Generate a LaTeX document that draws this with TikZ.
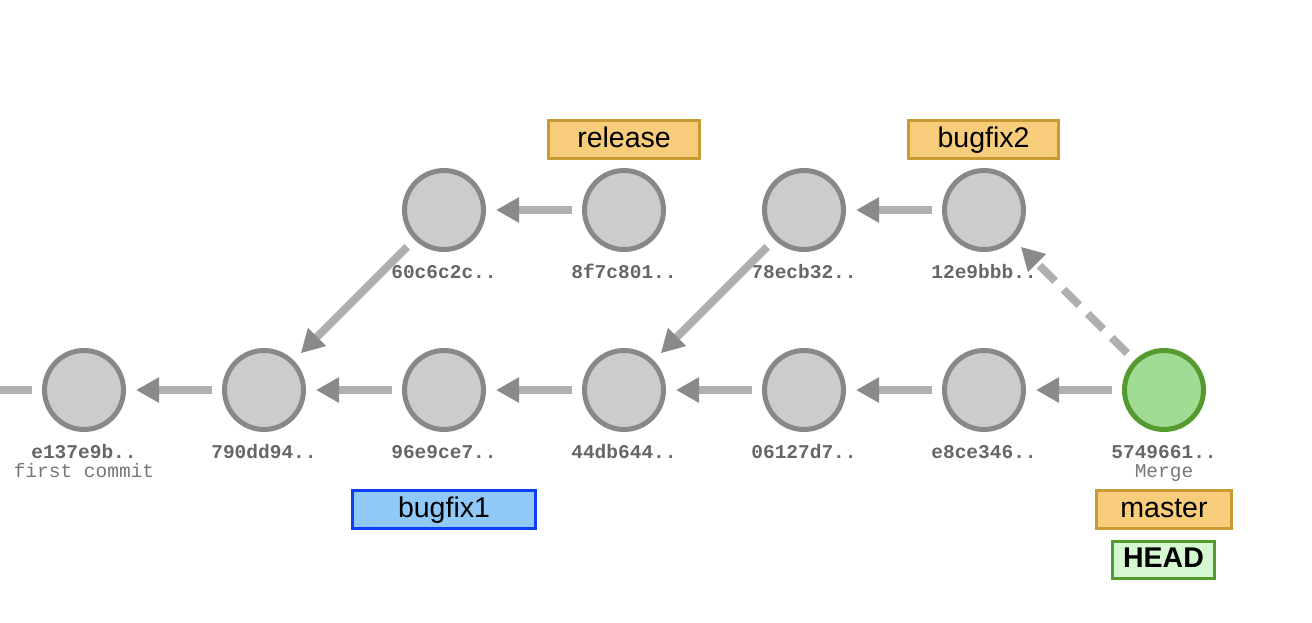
\documentclass[tikz,border=0pt]{standalone}
\usepackage{fontspec}
\setmainfont{Liberation Sans}
\newfontfamily\monofont{Liberation Mono}
\usetikzlibrary{arrows.meta}
\definecolor{cfill}{HTML}{CCCCCC}
\definecolor{cstroke}{HTML}{888888}
\definecolor{linegray}{HTML}{B0B0B0}
\definecolor{tipgray}{HTML}{8A8A8A}
\definecolor{txtgray}{HTML}{666666}
\definecolor{txtgray2}{HTML}{777777}
\definecolor{orfill}{HTML}{F7CC7B}
\definecolor{ordraw}{HTML}{C89A33}
\definecolor{blfill}{HTML}{90C8F8}
\definecolor{bldraw}{HTML}{0D3FF7}
\definecolor{grfill}{HTML}{A0DC94}
\definecolor{grdraw}{HTML}{559A2E}
\definecolor{hdfill}{HTML}{D6F8D0}
\tikzset{
  commit/.style={circle, minimum size=79pt, inner sep=0pt, line width=5pt,
    draw=cstroke, fill=cfill, outer sep=12.5pt},
  mergecommit/.style={commit, draw=grdraw, fill=grfill},
  hashlbl/.style={anchor=base, inner sep=0pt, text=txtgray,
    font=\monofont\bfseries\fontsize{19.5pt}{19.5pt}\selectfont},
  msglbl/.style={anchor=base, inner sep=0pt, text=txtgray2,
    font=\monofont\fontsize{19.5pt}{19.5pt}\selectfont},
  branch/.style={rectangle, line width=3pt, draw=ordraw, fill=orfill,
    minimum height=38pt, inner sep=0pt, text height=20.5pt, text depth=5.5pt,
    font=\fontsize{28.5pt}{28.5pt}\selectfont},
  curbranch/.style={branch, draw=bldraw, fill=blfill},
  headbox/.style={branch, draw=grdraw, fill=hdfill, minimum height=37pt,
    font=\bfseries\fontsize{28.5pt}{28.5pt}\selectfont},
  parent/.style={line width=8pt, draw=linegray,
    -{Triangle[length=23pt,width=24pt,color=tipgray]}},
  mergeparent/.style={parent, dash pattern=on 22pt off 12pt},
}
\begin{document}
\begin{tikzpicture}[x=1pt,y=-1pt]
\useasboundingbox (0,0) rectangle (1312,622);
% commits
\node[commit] (e137) at (84,390) {};
\node[commit] (c790) at (264,390) {};
\node[commit] (c96e) at (444,390) {};
\node[commit] (c44d) at (624,390) {};
\node[commit] (c061) at (804,390) {};
\node[commit] (e8ce) at (984,390) {};
\node[mergecommit] (c574) at (1164,390) {};
\node[commit] (c60c) at (444,210) {};
\node[commit] (c8f7) at (624,210) {};
\node[commit] (c78e) at (804,210) {};
\node[commit] (c12e) at (984,210) {};
\coordinate (off) at (0,390);
% hash labels
\node[hashlbl] (le137) at (84,458) {e137e9b..};
\node[msglbl] (me137) at (84,477) {first commit};
\node[hashlbl] (lc790) at (264,458) {790dd94..};
\node[hashlbl] (lc96e) at (444,458) {96e9ce7..};
\node[hashlbl] (lc44d) at (624,458) {44db644..};
\node[hashlbl] (lc061) at (804,458) {06127d7..};
\node[hashlbl] (le8ce) at (984,458) {e8ce346..};
\node[hashlbl] (lc574) at (1164,458) {5749661..};
\node[msglbl] (mc574) at (1164,477) {Merge};
\node[hashlbl] (lc60c) at (444,278) {60c6c2c..};
\node[hashlbl] (lc8f7) at (624,278) {8f7c801..};
\node[hashlbl] (lc78e) at (804,278) {78ecb32..};
\node[hashlbl] (lc12e) at (984,278) {12e9bbb..};
% edges
\draw[line width=8pt, draw=linegray] (e137) -- (off);
\draw[parent] (c790) -- (e137);
\draw[parent] (c96e) -- (c790);
\draw[parent] (c44d) -- (c96e);
\draw[parent] (c061) -- (c44d);
\draw[parent] (e8ce) -- (c061);
\draw[parent] (c574) -- (e8ce);
\draw[parent] (c60c) -- (c790);
\draw[parent] (c8f7) -- (c60c);
\draw[parent] (c78e) -- (c44d);
\draw[parent] (c12e) -- (c78e);
\draw[mergeparent] (c574) -- (c12e);
% branches
\node[branch, minimum width=151pt] (release) at (624,139.5) {release};
\node[branch, minimum width=150pt] (bugfix2) at (983.5,139.5) {bugfix2};
\node[branch, minimum width=135pt] (master) at (1164,509.5) {master};
\node[curbranch, minimum width=183pt] (bugfix1) at (444,509.5) {bugfix1};
\node[headbox, minimum width=102pt] (head) at (1163.5,560) {HEAD};
\end{tikzpicture}
\end{document}
